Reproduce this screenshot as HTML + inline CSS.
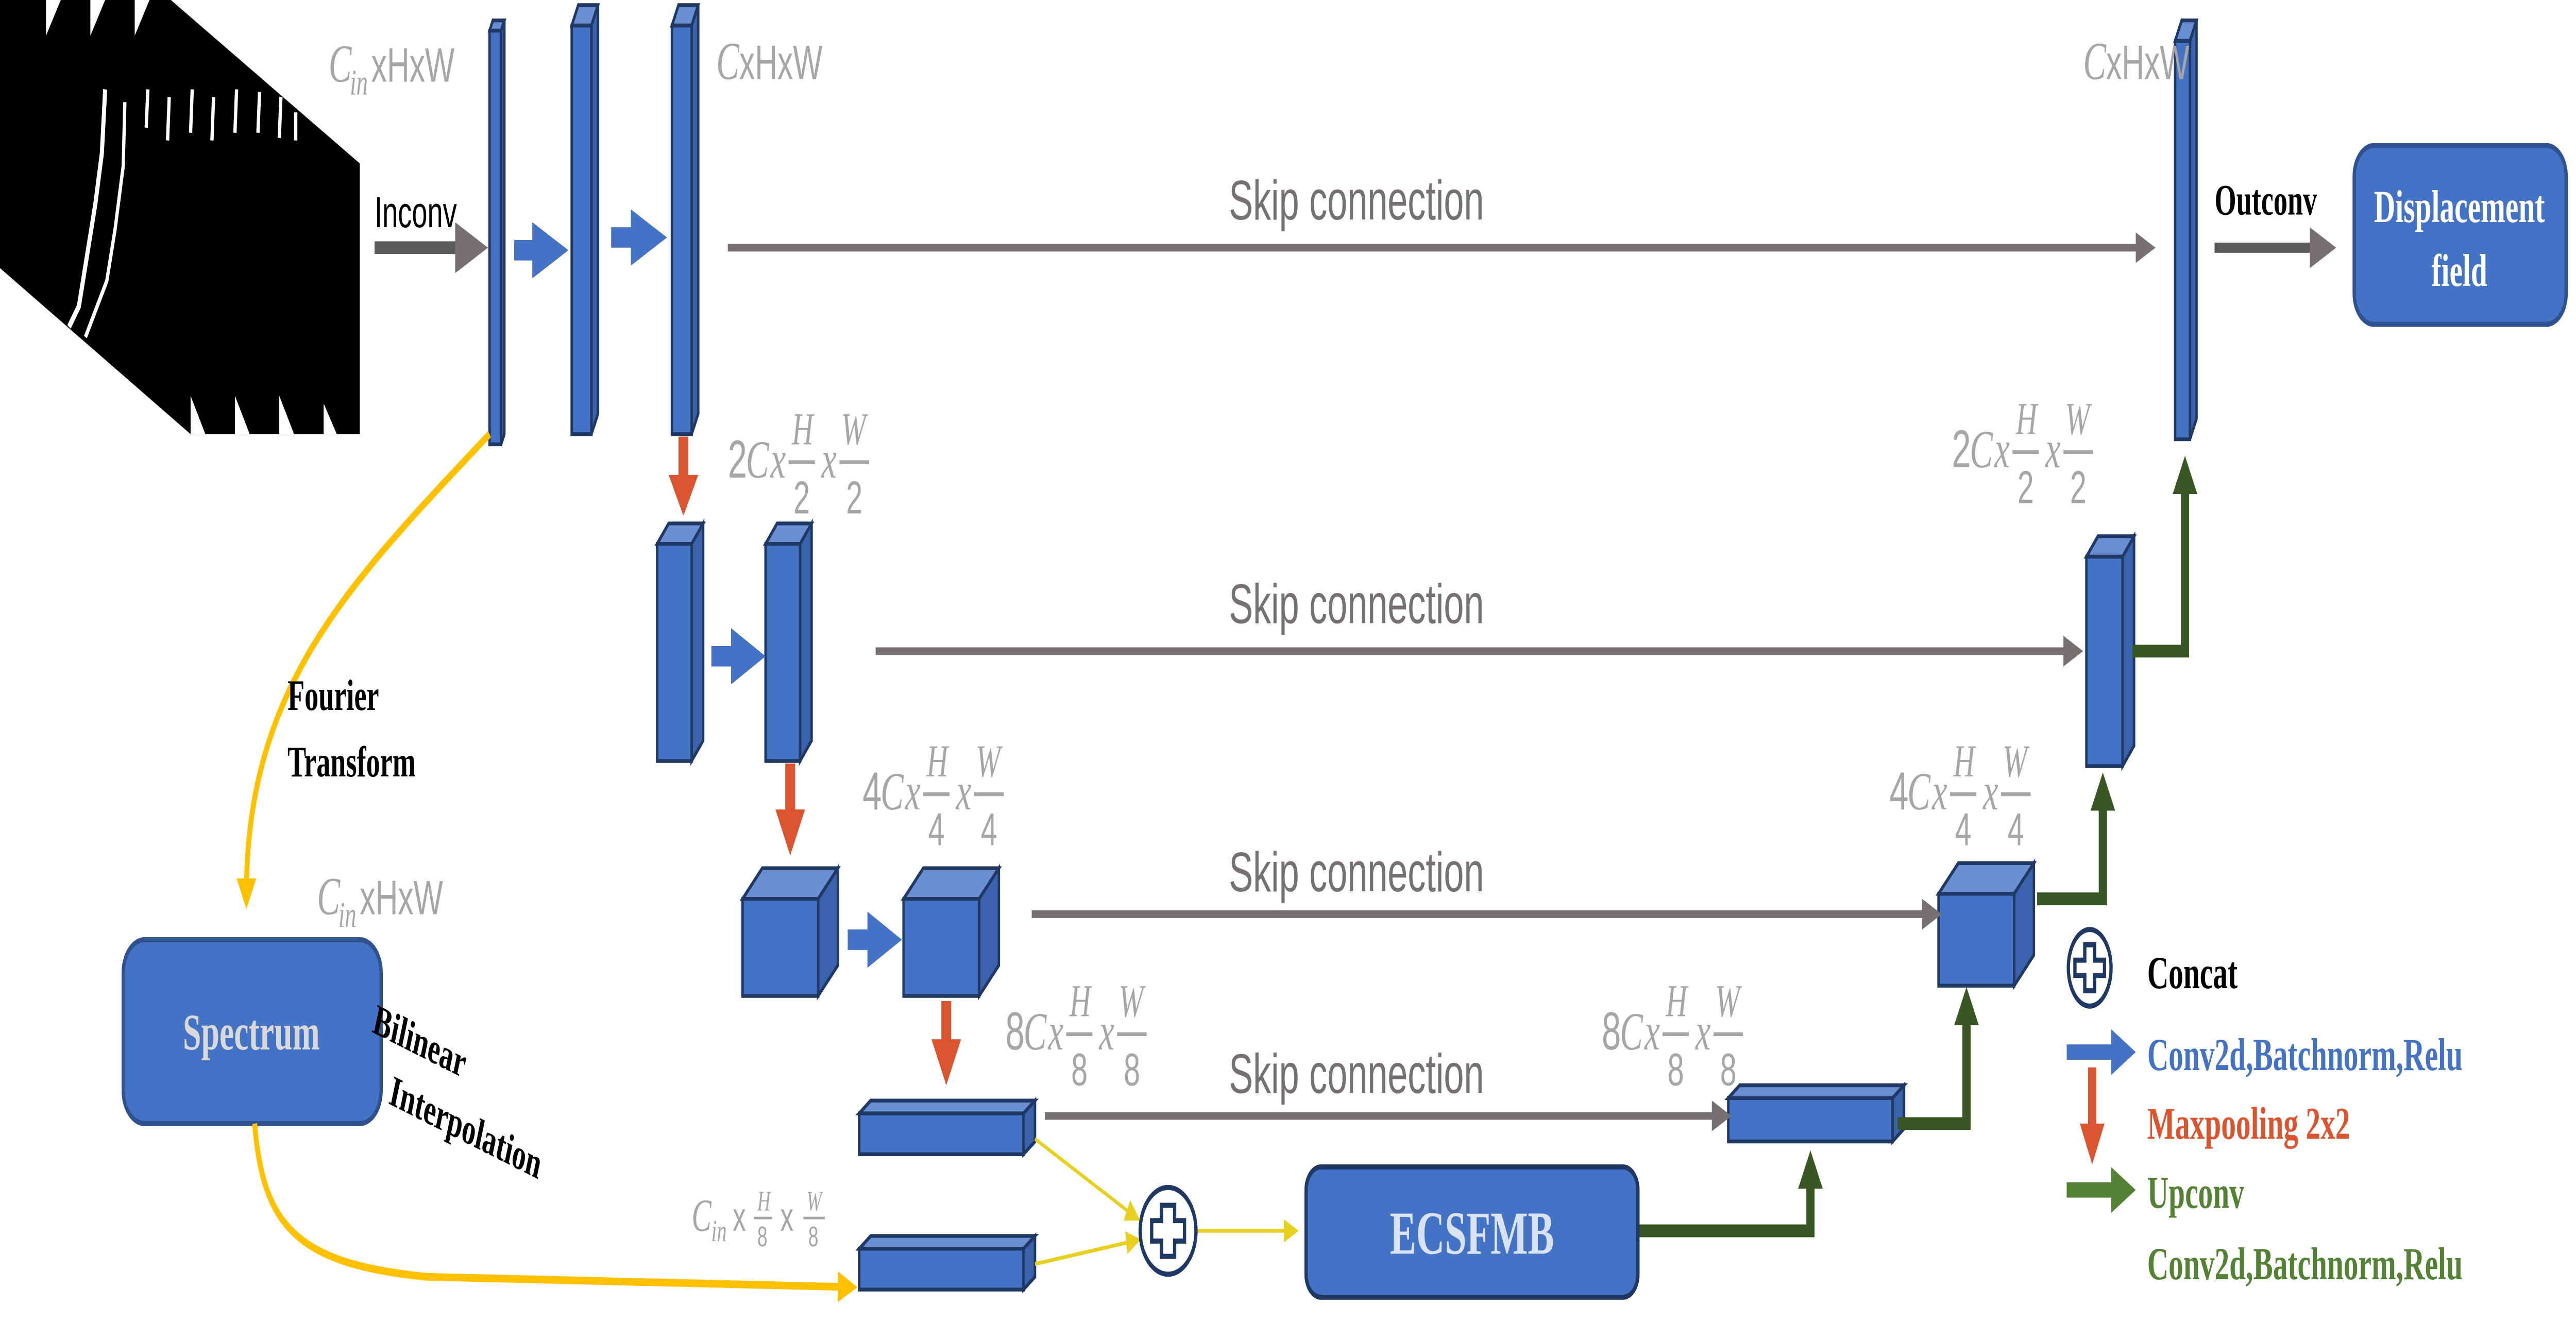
<!DOCTYPE html>
<html><head><meta charset="utf-8"><style>
html,body{margin:0;padding:0;background:#fff;width:100%;height:100%;overflow:hidden;}
svg{display:block;width:100vw;height:100vh;}
.g{fill:#a6a6a6;font-family:"Liberation Serif",serif;font-style:italic;}
.gu{fill:#a6a6a6;font-family:"Liberation Sans",sans-serif;}
.sk{fill:#767171;font-family:"Liberation Sans",sans-serif;font-size:22px;}
.b{font-family:"Liberation Serif",serif;font-weight:bold;}
</style></head><body>
<svg id="fig" viewBox="0 0 1568 517.7" preserveAspectRatio="none" xmlns="http://www.w3.org/2000/svg">
<defs>
<marker id="ag" markerWidth="4" markerHeight="4" refX="2" refY="2" orient="auto"><path d="M0,0 L4,2 L0,4 z" fill="#767171"/></marker>
<marker id="ay" markerWidth="4" markerHeight="4" refX="2" refY="2" orient="auto"><path d="M0,0 L4,2 L0,4 z" fill="#ffc000"/></marker>
<marker id="ayt" markerWidth="6" markerHeight="6" refX="3" refY="3" orient="auto"><path d="M0,0 L6,3 L0,6 z" fill="#e8d020"/></marker>
<marker id="adg" markerWidth="3" markerHeight="3" refX="1.5" refY="1.5" orient="auto"><path d="M0,0 L3,1.5 L0,3 z" fill="#385723"/></marker>
</defs>

<g>
<polygon points="0,0 104,0 219,64 219,170 116,170 0,105" fill="#000"/>
<polygon points="28,0 28,14 37,0" fill="#fff"/>
<polygon points="55,0 55,14 64,0" fill="#fff"/>
<polygon points="82,0 82,14 91,0" fill="#fff"/>
<polygon points="116,170 116,155 125,170" fill="#fff"/>
<polygon points="143,170 143,155 152,170" fill="#fff"/>
<polygon points="170,170 170,155 179,170" fill="#fff"/>
<polygon points="197,170 197,158 205,170" fill="#fff"/>
<path d="M64,35 L62,60 L58,80 L53,100 L48,120 L42,128" stroke="#fff" stroke-width="2.5" fill="none"/>
<path d="M76,40 L75,65 L70,90 L65,110 L52,132" stroke="#fff" stroke-width="2" fill="none"/>
<path d="M90,35 L89,50 M103,38 L102,55 M117,35 L116,52 M130,38 L129,55 M144,35 L143,52 M158,36 L157,52 M171,38 L170,54 M180,44 L180,55" stroke="#fff" stroke-width="2" fill="none"/>
</g>

<text x="228" y="89" font-family="Liberation Sans,sans-serif" font-size="17" fill="#000">Inconv</text>
<line x1="228" y1="97" x2="287" y2="97" stroke="#595959" stroke-width="5" marker-end="url(#ag)"/>

<g id="cubes"></g>

<g fill="#4472c4">
<polygon points="313,94 324,94 324,87 346,98 324,109 324,102 313,102"/>
<polygon points="372,89 384,89 384,82 406,93 384,104 384,97 372,97"/>
<polygon points="433,253 445,253 445,246 466,257 445,268 445,261 433,261"/>
<polygon points="516,364 528,364 528,357 549,368 528,379 528,372 516,372"/>
</g>
<g fill="#d9542f">
<rect x="413" y="171" width="6" height="17"/><polygon points="407,186 425,186 416,202"/>
<rect x="478" y="299" width="6" height="20"/><polygon points="472,317 490,317 481,335"/>
<rect x="573" y="392" width="6" height="17"/><polygon points="567,407 585,407 576,425"/>
</g>

<g stroke="#767171" stroke-width="3" fill="none">
<line x1="443" y1="97" x2="1306" y2="97" marker-end="url(#ag)"/>
<line x1="533" y1="255" x2="1262" y2="255" marker-end="url(#ag)"/>
<line x1="628" y1="358" x2="1176" y2="358" marker-end="url(#ag)"/>
<line x1="636" y1="437" x2="1048" y2="437" marker-end="url(#ag)"/>
</g>
<text class="sk" x="748" y="86">Skip connection</text>
<text class="sk" x="748" y="244">Skip connection</text>
<text class="sk" x="748" y="349">Skip connection</text>
<text class="sk" x="748" y="428">Skip connection</text>

<g><text class="g" x="200" y="32" font-size="21">C</text><text class="g" x="213" y="37" font-size="14">in</text><text class="gu" x="226" y="32" font-size="19">xHxW</text></g>
<g><text class="g" x="436" y="31" font-size="21">C</text><text class="gu" x="450" y="31" font-size="19">xHxW</text></g>
<g><text class="g" x="1268" y="31" font-size="21">C</text><text class="gu" x="1282" y="31" font-size="19">xHxW</text></g>
<g><text class="g" x="193" y="358" font-size="21">C</text><text class="g" x="206" y="363" font-size="14">in</text><text class="gu" x="219" y="358" font-size="19">xHxW</text></g>
<g id="fracs"></g>
<g><text class="g" x="421" y="482" font-size="18">C</text><text class="g" x="433" y="486" font-size="12">in</text><text class="gu" x="446" y="482" font-size="16">x</text><text class="g" x="461" y="474" font-size="11">H</text><line x1="459" y1="477" x2="470" y2="477" stroke="#a6a6a6" stroke-width="1"/><text class="gu" x="461" y="488" font-size="11">8</text><text class="gu" x="475" y="482" font-size="16">x</text><text class="g" x="491" y="474" font-size="11">W</text><line x1="489" y1="477" x2="502" y2="477" stroke="#a6a6a6" stroke-width="1"/><text class="gu" x="492" y="488" font-size="11">8</text></g>

<text x="1348" y="84" font-family="Liberation Serif,serif" font-weight="bold" font-size="17">Outconv</text>
<line x1="1348" y1="97" x2="1414" y2="97" stroke="#595959" stroke-width="4" marker-end="url(#ag)"/>
<g>
<rect x="1433" y="57" width="129" height="70" rx="12" fill="#4472c4" stroke="#2f528f" stroke-width="2"/>
<text x="1497" y="87" text-anchor="middle" class="b" fill="#fff" font-size="18">Displacement</text>
<text x="1497" y="112" text-anchor="middle" class="b" fill="#fff" font-size="18">field</text>
</g>

<g stroke="#385723" stroke-width="5" fill="none">
<polyline points="1298,255 1330,255 1330,186" marker-end="url(#adg)"/>
<polyline points="1240,352 1280,352 1280,310" marker-end="url(#adg)"/>
<polyline points="1155,440 1197,440 1197,394" marker-end="url(#adg)"/>
<polyline points="997,482 1102,482 1102,458" marker-end="url(#adg)"/>
</g>

<path d="M298,170 C210,230 150,270 150,350" stroke="#ffc000" stroke-width="3" fill="none" marker-end="url(#ay)"/>
<text x="175" y="278" class="b" font-size="17">Fourier</text>
<text x="175" y="304" class="b" font-size="17">Transform</text>
<g>
<rect x="75" y="368" width="157" height="72" rx="13" fill="#4472c4" stroke="#2f528f" stroke-width="2"/>
<text x="153" y="411" text-anchor="middle" class="b" fill="#d9d9d9" font-size="20">Spectrum</text>
</g>
<text class="b" font-size="17" transform="translate(226,404) rotate(18)">Bilinear</text>
<text class="b" font-size="17" transform="translate(236,432) rotate(18)">Interpolation</text>
<path d="M155,440 C160,480 180,495 260,500 L516,504" stroke="#ffc000" stroke-width="3" fill="none" marker-end="url(#ay)"/>

<g stroke="#e8d020" stroke-width="1.5" fill="none">
<line x1="630" y1="446" x2="690" y2="476" marker-end="url(#ayt)"/>
<line x1="630" y1="495" x2="690" y2="486" marker-end="url(#ayt)"/>
<line x1="728" y1="482" x2="786" y2="482" marker-end="url(#ayt)"/>
</g>
<g>
<ellipse cx="711" cy="482" rx="17" ry="17" fill="#fff" stroke="#1f3864" stroke-width="2"/>
<path d="M707,472 h8 v6 h6 v8 h-6 v6 h-8 v-6 h-6 v-8 h6 z" fill="#fff" stroke="#1f3864" stroke-width="2"/>
</g>
<g>
<rect x="795" y="457" width="202" height="51" rx="9" fill="#4472c4" stroke="#1f3864" stroke-width="2"/>
<text x="896" y="491" text-anchor="middle" class="b" fill="#d9e2f3" font-size="24">ECSFMB</text>
</g>

<g>
<g><ellipse cx="1272" cy="379" rx="13" ry="15" fill="#fff" stroke="#1f3864" stroke-width="2"/><path d="M1269,370 h6 v6 h6 v6 h-6 v6 h-6 v-6 h-6 v-6 h6 z" fill="#fff" stroke="#1f3864" stroke-width="2"/>
<text x="1307" y="387" class="b" font-size="18">Concat</text></g>
<g><polygon points="1258,409 1285,409 1285,403 1300,412 1285,421 1285,415 1258,415" fill="#4472c4"/><text x="1307" y="419" class="b" font-size="18" fill="#4472c4">Conv2d,Batchnorm,Relu</text></g>
<g><rect x="1271" y="418" width="5" height="25" fill="#d9542f"/><polygon points="1266,440 1281,440 1273.5,456" fill="#d9542f"/><text x="1307" y="446" class="b" font-size="18" fill="#d9542f">Maxpooling 2x2</text></g>
<g><polygon points="1258,463 1285,463 1285,457 1300,466 1285,475 1285,469 1258,469" fill="#548235"/><text x="1307" y="473" class="b" font-size="18" fill="#548235">Upconv</text>
<text x="1307" y="501" class="b" font-size="18" fill="#548235">Conv2d,Batchnorm,Relu</text></g>
</g>

<script>
var NS='http://www.w3.org/2000/svg';
var cubeNames=['bar-inconv','bar-conv1','bar-conv2','bar-out','bar-l2a','bar-l2b','bar-l2-up','cube-l3a','cube-l3b','cube-l3-up','slab-l4','slab-spectrum','slab-l4-up'];
var cubeGeom=[[298,12,7,162,2,4],[348,10,12,160,4,8],[409,10,12,160,4,8],[1324,16,9,156,4,8],[400,213,21,85,7,8],[466,213,21,85,7,8],[1270,218,22,82,7,8],[452,352,46,38,12,12],[550,352,46,38,12,12],[1180,350,46,36,12,12],[523,436,100,16,7,5],[523,489,100,16,7,5],[1052,430,100,17,7,5]];
var cg=document.getElementById('cubes');
cubeGeom.forEach(function(c,i){
  var x=c[0],y=c[1],w=c[2],h=c[3],dx=c[4],dy=c[5];
  var g=document.createElementNS(NS,'g');
  
  
  var parts=[[x,y,x+dx,y-dy,x+w+dx,y-dy,x+w,y,'#6a8fd3'],[x+w,y,x+w+dx,y-dy,x+w+dx,y+h-dy,x+w,y+h,'#3a62ad']];
  parts.forEach(function(p){var pg=document.createElementNS(NS,'polygon');
    pg.setAttribute('points',p[0]+','+p[1]+' '+p[2]+','+p[3]+' '+p[4]+','+p[5]+' '+p[6]+','+p[7]);
    pg.setAttribute('fill',p[8]);pg.setAttribute('stroke','#1f3864');pg.setAttribute('stroke-width','1.5');g.appendChild(pg);});
  var r=document.createElementNS(NS,'rect');
  r.setAttribute('x',x);r.setAttribute('y',y);r.setAttribute('width',w);r.setAttribute('height',h);
  r.setAttribute('fill','#4472c4');r.setAttribute('stroke','#1f3864');r.setAttribute('stroke-width','1.5');
  g.appendChild(r);cg.appendChild(g);
});
var fracNames=['dim-2c-left','dim-2c-right','dim-4c-left','dim-4c-right','dim-8c-left','dim-8c-right'];
var fracPre=['2C','2C','4C','4C','8C','8C'];
var fracDen=['2','2','4','4','8','8'];
var fracPos=[[443,187],[1188,183],[525,317],[1150,317],[612,411],[975,411]];
var fg=document.getElementById('fracs');
fracPos.forEach(function(p,i){
  var x=p[0],y=p[1];
  var g=document.createElementNS(NS,'g');
  
  
  function t(tx,ty,s,cls,sz){var e=document.createElementNS(NS,'text');e.setAttribute('x',tx);e.setAttribute('y',ty);e.setAttribute('class',cls);e.setAttribute('font-size',sz);e.textContent=s;g.appendChild(e);}
  function l(x1,x2){var e=document.createElementNS(NS,'line');e.setAttribute('x1',x1);e.setAttribute('x2',x2);e.setAttribute('y1',y-6);e.setAttribute('y2',y-6);e.setAttribute('stroke','#a6a6a6');e.setAttribute('stroke-width','1.5');g.appendChild(e);}
  t(x,y,fracPre[i][0],'gu',21);t(x+11,y,'C','g',21);t(x+26,y,'x','g',21);
  l(x+37,x+53);t(x+39,y-13,'H','g',18);t(x+40,y+14,fracDen[i],'gu',18);
  t(x+57,y,'x','g',21);
  l(x+68,x+86);t(x+69,y-13,'W','g',18);t(x+72,y+14,fracDen[i],'gu',18);
  fg.appendChild(g);
});
</script>
</svg>
</body></html>
